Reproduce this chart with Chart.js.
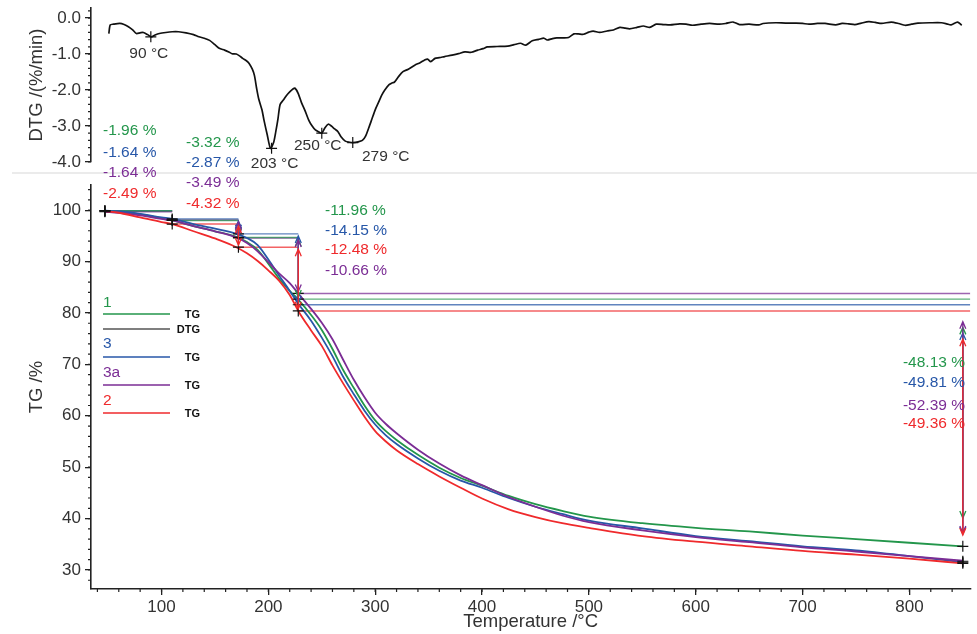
<!DOCTYPE html>
<html>
<head>
<meta charset="utf-8">
<script src="https://cdn.jsdelivr.net/npm/chart.js@4.4.0/dist/chart.umd.min.js"></script>
<style>
  html, body { margin: 0; padding: 0; background: #fff; }
  #wrap { position: relative; width: 977px; height: 634px; }
  #wrap canvas { position: absolute; left: 0; top: 0; }
</style>
</head>
<body>
<div id="wrap">
  <canvas id="dtgChart" width="977" height="634"></canvas>
  <canvas id="tgChart" width="977" height="634"></canvas>
</div>
<script>
// --- data ---
const TEMP = [47, 60, 80, 100, 110, 130, 150, 170, 180, 190,
              200, 210, 220, 228, 240, 250, 260, 270, 280, 290,
              300, 310, 320, 340, 360, 380, 400, 425, 450, 475,
              500, 550, 600, 650, 700, 750, 800, 850];

const TG_1  = [99.9, 99.7, 99.2, 98.4, 98.0, 96.9, 95.9, 94.8, 93.8, 92.3,
               89.6, 86.7, 84.3, 82.6, 79.6, 76.7, 73.0, 68.9, 65.4, 62.0,
               59.1, 57.0, 55.3, 52.4, 49.9, 47.9, 46.4, 44.4, 42.8, 41.5,
               40.4, 39.1, 38.2, 37.5, 36.7, 36.0, 35.3, 34.6];
const TG_3  = [99.9, 99.8, 99.3, 98.6, 98.3, 97.3, 96.4, 95.4, 94.6, 93.2,
               90.4, 87.3, 84.3, 81.8, 78.5, 75.2, 71.6, 67.6, 64.2, 61.0,
               58.3, 56.2, 54.5, 51.7, 49.3, 47.4, 46.0, 44.0, 42.3, 40.9,
               39.6, 38.1, 36.6, 35.6, 34.6, 33.8, 32.7, 31.5];
const TG_3A = [99.7, 99.5, 99.0, 98.3, 98.0, 96.9, 95.9, 94.7, 93.6, 92.0,
               89.9, 87.7, 85.8, 83.8, 80.8, 78.1, 74.9, 70.9, 67.0, 63.6,
               60.6, 58.4, 56.6, 53.4, 50.7, 48.4, 46.5, 44.2, 42.3, 40.6,
               39.3, 37.7, 36.4, 35.4, 34.4, 33.6, 32.7, 31.8];
const TG_2  = [99.8, 99.5, 98.6, 97.7, 97.3, 95.9, 94.5, 92.8, 91.6, 90.1,
               88.3, 86.3, 83.5, 80.4, 76.6, 73.6, 69.8, 66.3, 63.0, 59.8,
               57.0, 55.0, 53.3, 50.6, 48.2, 46.0, 43.9, 41.8, 40.3, 39.1,
               38.2, 36.6, 35.5, 34.6, 33.7, 33.0, 32.2, 31.3];

// step evaluation: temperatures and TG level at each step marker
const STEP_TEMPS = [47, 110, 172, 228, 850];
const STEP_1  = [99.9, 98.0, 94.7, 82.7, 34.6];
const STEP_3  = [99.9, 98.3, 95.4, 81.6, 31.5];
const STEP_3A = [99.7, 98.1, 94.6, 83.8, 31.7];
const STEP_2  = [99.8, 97.3, 92.8, 80.4, 31.3];

// mass loss of each step, %
const LOSS_1  = [-1.96, -3.32, -11.96, -48.13];
const LOSS_3  = [-1.64, -2.87, -14.15, -49.81];
const LOSS_3A = [-1.64, -3.49, -10.66, -52.39];
const LOSS_2  = [-2.49, -4.32, -12.48, -49.36];

// DTG of sample 1
const DTG_TEMP = [50.7, 52, 55, 61, 65, 69, 73, 76.5, 80, 83, 87, 90.4, 94, 98, 104, 110, 116, 123, 130, 135,
  140, 145, 150, 154, 159, 163, 166, 170, 173, 176, 180, 182, 185, 187, 189, 191, 194, 196, 199, 202,
  205, 207, 209, 211, 214, 217, 220, 223, 225, 228, 231, 234, 238, 241, 244, 247, 250, 253, 256, 259,
  262, 265, 268, 272, 276, 279, 284, 288, 291, 294, 297, 300, 303, 306, 309, 313, 316, 318, 322, 326,
  331, 337, 342, 346, 349, 352, 356, 360, 365, 372, 378, 384, 390, 396, 401, 405, 414, 424, 430, 436,
  441, 447, 453, 458, 461, 466, 470, 476, 481, 486, 490, 495, 500, 504, 510, 517, 523, 529, 534, 538,
  545, 551, 557, 563, 570, 576, 585, 591, 597, 605, 613, 622, 628, 635, 641, 650, 659, 663, 675, 684,
  694, 700, 706, 714, 721, 731, 737, 743, 749, 755, 762, 768, 774, 783, 790, 796, 802, 808, 820, 830,
  835, 839, 845, 849];
const DTG_VALUE = [-0.43, -0.19, -0.17, -0.15, -0.18, -0.24, -0.33, -0.43, -0.41, -0.40, -0.46, -0.52, -0.47, -0.43, -0.40, -0.38, -0.38, -0.41, -0.46, -0.52,
  -0.56, -0.62, -0.74, -0.84, -0.89, -0.94, -0.99, -1.00, -1.05, -1.12, -1.20, -1.26, -1.42, -1.60, -1.95, -2.25, -2.55, -2.85, -3.25, -3.62,
  -3.45, -3.15, -2.80, -2.40, -2.28, -2.15, -2.05, -1.97, -1.95, -2.10, -2.35, -2.55, -2.85, -3.00, -3.11, -3.16, -3.20, -3.05, -2.95, -3.00,
  -3.08, -3.15, -3.30, -3.42, -3.45, -3.46, -3.44, -3.40, -3.28, -3.05, -2.80, -2.55, -2.35, -2.15, -2.00, -1.85, -1.80, -1.78, -1.62, -1.49,
  -1.42, -1.31, -1.24, -1.17, -1.14, -1.21, -1.12, -1.10, -1.07, -1.03, -0.99, -0.94, -0.95, -0.89, -0.85, -0.80, -0.79, -0.78, -0.74, -0.70,
  -0.75, -0.63, -0.59, -0.56, -0.61, -0.57, -0.55, -0.55, -0.54, -0.44, -0.44, -0.45, -0.39, -0.36, -0.40, -0.36, -0.33, -0.26, -0.28, -0.30,
  -0.26, -0.22, -0.26, -0.17, -0.18, -0.19, -0.16, -0.17, -0.20, -0.17, -0.15, -0.17, -0.15, -0.11, -0.18, -0.17, -0.19, -0.15, -0.13, -0.14,
  -0.14, -0.15, -0.17, -0.15, -0.15, -0.19, -0.15, -0.16, -0.18, -0.14, -0.10, -0.12, -0.15, -0.11, -0.15, -0.20, -0.17, -0.14, -0.13, -0.13,
  -0.16, -0.19, -0.11, -0.20];

const PEAK_TEMPS  = [90, 203, 250, 279];
const PEAK_VALUES = [-0.52, -3.62, -3.20, -3.46];

const X_TICKS   = [100, 200, 300, 400, 500, 600, 700, 800];
const TG_TICKS  = [30, 40, 50, 60, 70, 80, 90, 100];
const DTG_TICKS = [-4, -3, -2, -1, 0];

// --- look ---
const GREEN = '#23964b', BLUE = '#2757a8', PURPLE = '#7b2d95', RED = '#ef2a2c';
const INK = '#222', TEXT = '#333';
const FONT = "'Liberation Sans', Arial, sans-serif";
const X_MIN = 34, X_MAX = 857;
const LEFT = 91;

const SERIES = [
  { name: '1',  color: GREEN,  tg: TG_1,  steps: STEP_1,  loss: LOSS_1 },
  { name: '3',  color: BLUE,   tg: TG_3,  steps: STEP_3,  loss: LOSS_3 },
  { name: '3a', color: PURPLE, tg: TG_3A, steps: STEP_3A, loss: LOSS_3A },
  { name: '2',  color: RED,    tg: TG_2,  steps: STEP_2,  loss: LOSS_2 }
];

// pixel layout of the step texts, per column: x, align, y for [1, 3, 3a, 2]
const LOSS_LAYOUT = [
  { x: 103, align: 'left',  ys: [131, 152.5, 172.5, 194] },
  { x: 186, align: 'left',  ys: [143, 162.5, 182.5, 204] },
  { x: 325, align: 'left',  ys: [211, 231, 271, 250] },
  { x: 965, align: 'right', ys: [362.5, 382.5, 406, 424] }
];
const PEAK_LABEL_OFFSET = [[-2, 17], [3, 15], [-4, 13], [33, 14]];

const LEGEND = [
  { label: '1',  color: GREEN,  tag: 'TG',  line: 314, text: 303 },
  { label: '',   color: '#555', tag: 'DTG', line: 329, text: 0 },
  { label: '3',  color: BLUE,   tag: 'TG',  line: 357, text: 344 },
  { label: '3a', color: PURPLE, tag: 'TG',  line: 385, text: 373 },
  { label: '2',  color: RED,    tag: 'TG',  line: 413, text: 401 }
];

// --- small tick marks between the labelled ones ---
const minorTicks = {
  id: 'minorTicks',
  afterDraw(chart, args, opts) {
    const ctx = chart.ctx;
    ctx.save();
    ctx.strokeStyle = INK;
    ctx.lineWidth = 1.2;
    Object.keys(opts.steps || {}).forEach(id => {
      const sc = chart.scales[id];
      if (!sc || !sc.options.display) return;
      const step = opts.steps[id];
      ctx.beginPath();
      for (let n = Math.ceil(sc.min / step); n * step <= sc.max + 1e-9; n++) {
        const p = sc.getPixelForValue(n * step);
        if (sc.isHorizontal()) {
          ctx.moveTo(p, sc.top); ctx.lineTo(p, sc.top + 3);
        } else {
          ctx.moveTo(sc.right - 3, p); ctx.lineTo(sc.right, p);
        }
      }
      ctx.stroke();
    });
    ctx.restore();
  }
};

function drawArrow(ctx, x, yTop, yBot, color) {
  const h = 7, w = 3;
  ctx.strokeStyle = color;
  ctx.lineWidth = 1.3;
  ctx.beginPath();
  ctx.moveTo(x, yTop); ctx.lineTo(x, yBot);
  ctx.moveTo(x - w, yTop + h); ctx.lineTo(x, yTop); ctx.lineTo(x + w, yTop + h);
  ctx.moveTo(x - w, yBot - h); ctx.lineTo(x, yBot); ctx.lineTo(x + w, yBot - h);
  ctx.stroke();
}

const tgDecor = {
  id: 'tgDecor',
  afterDatasetsDraw(chart) {
    const { ctx, scales: { x, y } } = chart;
    ctx.save();
    SERIES.forEach(s => {
      for (let i = 1; i < STEP_TEMPS.length - 1; i++) {
        const inset = i === STEP_TEMPS.length - 2 ? 5.5 : 0.4;
        drawArrow(ctx, x.getPixelForValue(STEP_TEMPS[i + 1]),
          y.getPixelForValue(s.steps[i] - inset), y.getPixelForValue(s.steps[i + 1] + inset), s.color);
      }
    });
    ctx.restore();
  },
  afterDraw(chart) {
    const ctx = chart.ctx;
    ctx.save();
    // step texts
    ctx.font = '15.5px ' + FONT;
    ctx.textBaseline = 'middle';
    LOSS_LAYOUT.forEach((col, c) => {
      ctx.textAlign = col.align;
      SERIES.forEach((s, k) => {
        ctx.fillStyle = s.color;
        ctx.fillText(s.loss[c].toFixed(2) + ' %', col.x, col.ys[k]);
      });
    });
    // legend
    LEGEND.forEach(e => {
      ctx.strokeStyle = e.color;
      ctx.lineWidth = 1.3;
      ctx.beginPath(); ctx.moveTo(103, e.line); ctx.lineTo(170, e.line); ctx.stroke();
      if (e.label) {
        ctx.font = '15.5px ' + FONT;
        ctx.fillStyle = e.color;
        ctx.textAlign = 'left';
        ctx.textBaseline = 'middle';
        ctx.fillText(e.label, 103, e.text);
      }
      ctx.font = 'bold 11px ' + FONT;
      ctx.fillStyle = '#111';
      ctx.textAlign = 'right';
      ctx.textBaseline = 'middle';
      ctx.fillText(e.tag, 200, e.line + 1);
    });
    ctx.restore();
  }
};

const dtgDecor = {
  id: 'dtgDecor',
  afterDraw(chart) {
    const { ctx, scales: { x, y } } = chart;
    ctx.save();
    ctx.font = '15.5px ' + FONT;
    ctx.fillStyle = TEXT;
    ctx.textAlign = 'center';
    ctx.textBaseline = 'middle';
    PEAK_TEMPS.forEach((t, i) => {
      const px = x.getPixelForValue(t) + PEAK_LABEL_OFFSET[i][0];
      const py = y.getPixelForValue(PEAK_VALUES[i]) + PEAK_LABEL_OFFSET[i][1];
      ctx.fillText(t + ' °C', px, py);
    });
    // thin grey divider between the two panels
    ctx.strokeStyle = '#ebebeb';
    ctx.lineWidth = 2;
    ctx.beginPath(); ctx.moveTo(12, 173); ctx.lineTo(977, 173); ctx.stroke();
    ctx.restore();
  }
};

function tickFont() { return { family: FONT, size: 17 }; }
function titleFont() { return { family: FONT, size: 18.5 }; }

function yAxis(min, max, ticks, title, fmt) {
  return {
    type: 'linear', min: min, max: max,
    afterBuildTicks: s => { s.ticks = ticks.map(v => ({ value: v })); },
    afterFit: s => { s.width = LEFT; s.paddingTop = 0; s.paddingBottom = 0; },
    grid: { drawOnChartArea: false, drawTicks: true, tickLength: 6, tickColor: INK, lineWidth: 1.3 },
    border: { display: true, color: INK, width: 1.6 },
    ticks: { color: TEXT, font: tickFont(), padding: 4, callback: fmt },
    title: { display: true, text: title, color: TEXT, font: titleFont(), padding: { top: 26, bottom: 0 } }
  };
}

// --- DTG panel ---
const dtgPoints = DTG_TEMP.map((t, i) => ({ x: t, y: DTG_VALUE[i] }));
const peakPoints = PEAK_TEMPS.map((t, i) => ({ x: t, y: PEAK_VALUES[i] }));

new Chart(document.getElementById('dtgChart'), {
  type: 'line',
  data: {
    datasets: [
      { data: peakPoints, showLine: false, pointStyle: 'cross', pointRadius: 5.5,
        pointBorderColor: '#111', pointBorderWidth: 1.2, order: 0 },
      { data: dtgPoints, borderColor: '#111', borderWidth: 1.7, pointRadius: 0,
        tension: 0.25, order: 1 }
    ]
  },
  options: {
    responsive: false, animation: false, events: [],
    layout: { padding: { top: 8, bottom: 472, left: 0, right: 1 } },
    plugins: { legend: { display: false }, tooltip: { enabled: false },
               minorTicks: { steps: { y: 0.2 } } },
    scales: {
      x: { type: 'linear', min: X_MIN, max: X_MAX, display: false },
      y: yAxis(-4.0, 0.28, DTG_TICKS, 'DTG /(%/min)', v => v.toFixed(1))
    }
  },
  plugins: [minorTicks, dtgDecor]
});

// --- TG panel ---
const datasets = [];
const markerPoints = [];
SERIES.forEach(s => {
  STEP_TEMPS.forEach((t, i) => markerPoints.push({ x: t, y: s.steps[i] }));
});
datasets.push({ data: markerPoints, showLine: false, pointStyle: 'cross', pointRadius: 5.5,
  pointBorderColor: '#111', pointBorderWidth: 1.2, order: 0 });

SERIES.slice().reverse().forEach((s, k) => {
  datasets.push({
    label: s.name,
    data: TEMP.map((t, i) => ({ x: t, y: s.tg[i] })),
    borderColor: s.color, borderWidth: 1.8, pointRadius: 0,
    cubicInterpolationMode: 'monotone', order: 1 + k
  });
});

SERIES.forEach((s, k) => {
  const pts = [];
  for (let i = 0; i < STEP_TEMPS.length - 1; i++) {
    const end = i === STEP_TEMPS.length - 2 ? X_MAX : STEP_TEMPS[i + 1];
    pts.push({ x: STEP_TEMPS[i], y: s.steps[i] }, { x: end, y: s.steps[i] }, { x: end, y: null });
  }
  datasets.push({ data: pts, borderColor: s.color + 'bb', borderWidth: 1.4, pointRadius: 0,
    spanGaps: false, tension: 0, order: 10 + k });
});

new Chart(document.getElementById('tgChart'), {
  type: 'line',
  data: { datasets: datasets },
  options: {
    responsive: false, animation: false, events: [],
    layout: { padding: { top: 185, bottom: 0, left: 0, right: 1 } },
    plugins: { legend: { display: false }, tooltip: { enabled: false },
               minorTicks: { steps: { x: 20, y: 2 } } },
    scales: {
      x: {
        type: 'linear', min: X_MIN, max: X_MAX,
        afterBuildTicks: s => { s.ticks = X_TICKS.map(v => ({ value: v })); },
        afterFit: s => { s.height = 45; s.paddingLeft = 0; s.paddingRight = 0; },
        grid: { drawOnChartArea: false, drawTicks: true, tickLength: 6, tickColor: INK, lineWidth: 1.3 },
        border: { display: true, color: INK, width: 1.6 },
        ticks: { color: TEXT, font: tickFont(), padding: 2, maxRotation: 0, autoSkip: false },
        title: { display: true, text: 'Temperature /°C', color: TEXT, font: titleFont(),
                 padding: { top: 0, bottom: 1 } }
      },
      y: yAxis(26.3, 104.9, TG_TICKS, 'TG /%', v => String(v))
    }
  },
  plugins: [minorTicks, tgDecor]
});
</script>
</body>
</html>
